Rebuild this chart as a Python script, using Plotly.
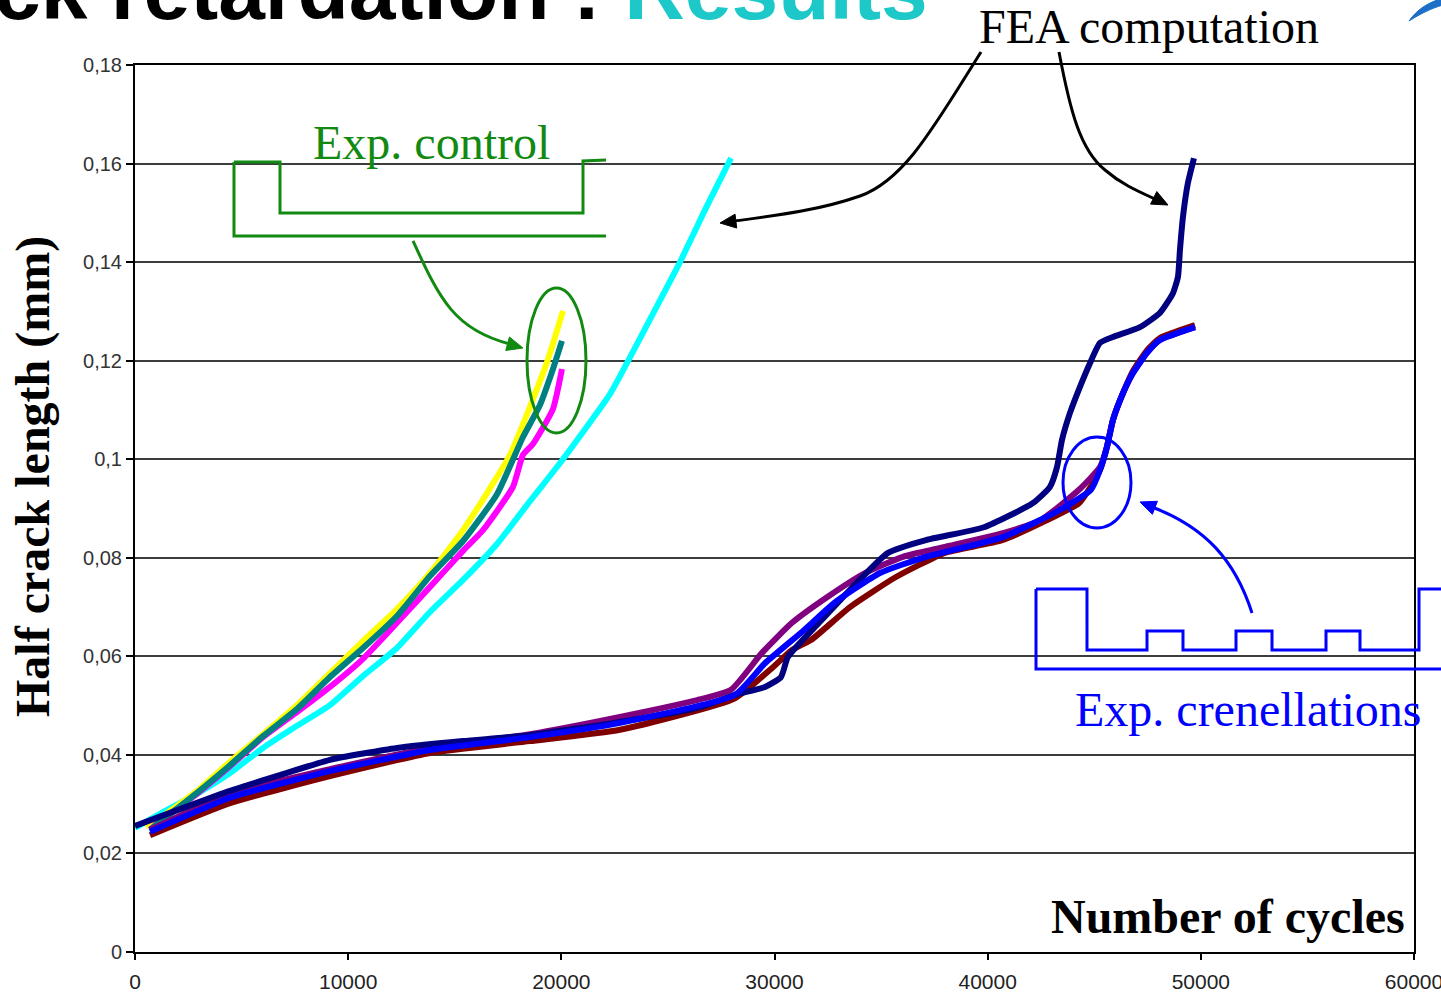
import math
import plotly.graph_objects as go

# ---------------- data ----------------
# FEA computation, control loading (cyan)
fea_ctrl_cycles = [0, 1313, 2909, 4456, 6005, 7599, 9148, 10696, 12290, 13838, 15387, 16982,
                   18529, 20077, 22282, 23127, 24393, 25566, 26739, 27958]
fea_ctrl_len = [0.0252, 0.0284, 0.0321, 0.0363, 0.0414, 0.0459, 0.0501, 0.0560, 0.0617, 0.0690,
                0.0755, 0.0828, 0.0915, 0.1000, 0.1132, 0.1199, 0.1303, 0.1400, 0.1506, 0.1611]

# Experimental control tests
exp_ctrl1_cycles = [500, 1313, 2909, 4456, 6005, 7599, 9148, 10696, 12290, 13838, 15387, 17591, 19327, 20077]
exp_ctrl1_len = [0.0255, 0.0276, 0.0327, 0.0386, 0.0442, 0.0501, 0.0566, 0.0631, 0.0696, 0.0769,
                 0.0856, 0.1009, 0.1197, 0.1301]

exp_ctrl2_cycles = [704, 1313, 2909, 4456, 6005, 7599, 9148, 10696, 12290, 13838, 15387, 16325,
                    17732, 18201, 18670, 19608, 20030]
exp_ctrl2_len = [0.0248, 0.0270, 0.0321, 0.0377, 0.0436, 0.0487, 0.0538, 0.0595, 0.0668, 0.0741,
                 0.0814, 0.0856, 0.0944, 0.1009, 0.1031, 0.1102, 0.1183]

exp_ctrl3_cycles = [704, 2909, 4456, 6005, 7599, 9148, 10696, 12290, 13838, 15387, 16982, 18201,
                    18998, 19608, 20030]
exp_ctrl3_len = [0.0248, 0.0323, 0.0379, 0.0438, 0.0493, 0.0558, 0.0617, 0.0682, 0.0763, 0.0834,
                 0.0929, 0.1045, 0.1110, 0.1183, 0.1240]

# FEA computation, crenellations (navy)
fea_cren_cycles = [0, 2111, 4456, 6802, 9148, 12290, 15387, 18529, 22751, 26504, 28146, 29553,
                   30304, 30632, 32087, 33541, 35323, 37106, 39827, 42125, 42923, 43252, 43486,
                   43861, 44330, 44799, 45268, 45878, 47144, 48082, 48692, 48927, 49021, 49162,
                   49396, 49678]
fea_cren_len = [0.0256, 0.0290, 0.0327, 0.0359, 0.0390, 0.0414, 0.0428, 0.0440, 0.0467, 0.0497,
                0.0522, 0.0538, 0.0558, 0.0599, 0.0668, 0.0735, 0.0810, 0.0836, 0.0862, 0.0911,
                0.0944, 0.0984, 0.1039, 0.1094, 0.1147, 0.1195, 0.1236, 0.1248, 0.1268, 0.1297,
                0.1337, 0.1370, 0.1425, 0.1492, 0.1561, 0.1611]

# Experimental crenellation tests
exp_cren1_cycles = [704, 4456, 9148, 13838, 18529, 22751, 28146, 29929, 30820, 31711, 33541, 35698,
                    37997, 40718, 44283, 44799, 45268, 45596, 45878, 46347, 46816, 47473, 48082, 49725]
exp_cren1_len = [0.0237, 0.0302, 0.0357, 0.0404, 0.0428, 0.0451, 0.0515, 0.0578, 0.0613, 0.0633,
                 0.0700, 0.0761, 0.0810, 0.0836, 0.0911, 0.0942, 0.0978, 0.1025, 0.1080, 0.1134,
                 0.1179, 0.1221, 0.1246, 0.1272]

exp_cren2_cycles = [704, 4456, 9148, 13838, 18529, 22751, 26364, 27958, 29412, 30820, 32462, 34244,
                    36027, 37997, 40718, 42501, 44283, 45268, 45596, 45878, 46347, 46816, 47473,
                    48082, 49725]
exp_cren2_len = [0.0248, 0.0321, 0.0371, 0.0414, 0.0442, 0.0477, 0.0511, 0.0532, 0.0607, 0.0668,
                 0.0720, 0.0769, 0.0802, 0.0822, 0.0850, 0.0877, 0.0938, 0.0984, 0.1025, 0.1080,
                 0.1134, 0.1175, 0.1216, 0.1242, 0.1268]

exp_cren3_cycles = [704, 4456, 9148, 13838, 18529, 22751, 28146, 29553, 31383, 32790, 34948, 37106,
                    40718, 43392, 44846, 45268, 45596, 45878, 46347, 46816, 47473, 48082, 49725]
exp_cren3_len = [0.0244, 0.0313, 0.0367, 0.0410, 0.0436, 0.0465, 0.0522, 0.0586, 0.0653, 0.0708,
                 0.0769, 0.0802, 0.0842, 0.0897, 0.0938, 0.0978, 0.1025, 0.1080, 0.1134, 0.1175,
                 0.1216, 0.1242, 0.1268]

x_tick_vals = [0, 10000, 20000, 30000, 40000, 50000, 60000]
x_tick_text = ["0", "10000", "20000", "30000", "40000", "50000", "60000"]
y_tick_vals = [0, 0.02, 0.04, 0.06, 0.08, 0.1, 0.12, 0.14, 0.16, 0.18]
y_tick_text = ["0", "0,02", "0,04", "0,06", "0,08", "0,1", "0,12", "0,14", "0,16", "0,18"]

# ---------------- figure ----------------
W, H = 1441, 994
PL, PR, PT, PB = 135, 1414, 65, 952   # plot area in page pixels
PW, PH = PR - PL, PB - PT


def px(x):
    return (x - PL) / PW


def py(y):
    return (PB - y) / PH


def path(points, close=False):
    s = "M " + " L ".join(f"{px(a):.5f},{py(b):.5f}" for a, b in points)
    return s + (" Z" if close else "")


def cpath(start, *curves):
    s = f"M {px(start[0]):.5f},{py(start[1]):.5f}"
    for c in curves:
        s += " C " + " ".join(f"{px(a):.5f},{py(b):.5f}" for a, b in c)
    return s


def head(tip, frm, L=16, Wd=7):
    dx, dy = tip[0] - frm[0], tip[1] - frm[1]
    n = math.hypot(dx, dy)
    ux, uy = dx / n, dy / n
    bx, by = tip[0] - ux * L, tip[1] - uy * L
    p1 = (bx - uy * Wd, by + ux * Wd)
    p2 = (bx + uy * Wd, by - ux * Wd)
    return path([tip, p1, p2], close=True)


fig = go.Figure()

series = [
    (fea_ctrl_cycles, fea_ctrl_len, "#00FFFF", "FEA control"),
    (exp_ctrl1_cycles, exp_ctrl1_len, "#FFFF00", "Exp. control 1"),
    (exp_ctrl2_cycles, exp_ctrl2_len, "#FF00FF", "Exp. control 2"),
    (exp_ctrl3_cycles, exp_ctrl3_len, "#008080", "Exp. control 3"),
    (exp_cren1_cycles, exp_cren1_len, "#800000", "Exp. crenellations 1"),
    (exp_cren2_cycles, exp_cren2_len, "#800080", "Exp. crenellations 2"),
    (fea_cren_cycles, fea_cren_len, "#000080", "FEA crenellations"),
    (exp_cren3_cycles, exp_cren3_len, "#0000FF", "Exp. crenellations 3"),
]
for xs, ys, col, name in series:
    fig.add_trace(go.Scatter(x=xs, y=ys, mode="lines", name=name,
                             line=dict(color=col, width=6, shape="spline", smoothing=0.5)))

GREEN = "#128A12"
BLUE = "#0000FF"
shapes = []
# Exp. control waveform
shapes.append(dict(type="path", path=path([(234, 162), (280, 162), (280, 213), (583, 213), (583, 161), (606, 160)]),
                   line=dict(color=GREEN, width=3)))
shapes.append(dict(type="path", path=path([(234, 162), (234, 236), (606, 236)]), line=dict(color=GREEN, width=3)))
# green arrow + ellipse
shapes.append(dict(type="path", path=cpath((413, 241), [(440, 300), (455, 330), (510, 344)]),
                   line=dict(color=GREEN, width=3)))
shapes.append(dict(type="path", path=head((523, 348), (505, 343)), line=dict(color=GREEN, width=1), fillcolor=GREEN))
shapes.append(dict(type="circle", x0=px(527), x1=px(586), y0=py(433), y1=py(288),
                   line=dict(color=GREEN, width=3)))
# FEA arrows
shapes.append(dict(type="path", path=cpath((981, 52), [(935, 125), (905, 180), (860, 196)], [(820, 210), (780, 215), (735, 221)]),
                   line=dict(color="black", width=3)))
shapes.append(dict(type="path", path=head((720, 223), (745, 220)), line=dict(color="black", width=1), fillcolor="black"))
shapes.append(dict(type="path", path=cpath((1059, 52), [(1070, 110), (1080, 150), (1105, 170)], [(1120, 183), (1135, 190), (1155, 199)]),
                   line=dict(color="black", width=3)))
shapes.append(dict(type="path", path=head((1168, 205), (1150, 196)), line=dict(color="black", width=1), fillcolor="black"))
# blue ellipse + arrow
shapes.append(dict(type="circle", x0=px(1063), x1=px(1131), y0=py(528), y1=py(437),
                   line=dict(color=BLUE, width=3)))
shapes.append(dict(type="path", path=cpath((1252, 613), [(1235, 560), (1205, 527), (1152, 507)]),
                   line=dict(color=BLUE, width=3)))
shapes.append(dict(type="path", path=head((1140, 502), (1158, 509)), line=dict(color=BLUE, width=1), fillcolor=BLUE))
# crenellation waveform
shapes.append(dict(type="path", path=path([(1036, 589), (1087, 589), (1087, 650), (1147, 650), (1147, 631), (1183, 631),
                                           (1183, 650), (1236, 650), (1236, 631), (1272, 631), (1272, 650), (1326, 650),
                                           (1326, 631), (1360, 631), (1360, 650), (1419, 650), (1419, 589), (1445, 589)]),
                   line=dict(color=BLUE, width=3)))
shapes.append(dict(type="path", path=path([(1036, 589), (1036, 669), (1445, 669)]), line=dict(color=BLUE, width=3)))
# logo swoosh
shapes.append(dict(type="path", path=cpath((1409, 21), [(1418, 8), (1430, 2), (1443, -2)]) + f" L {px(1443):.5f},{py(5):.5f}"
                   + " C " + " ".join(f"{px(a):.5f},{py(b):.5f}" for a, b in [(1432, 8), (1420, 14), (1409, 21)]) + " Z",
                   line=dict(color="#1C6FC8", width=1), fillcolor="#1C6FC8"))
for s in shapes:
    s["xref"] = "paper"
    s["yref"] = "paper"
    s["layer"] = "above"

SERIF = "Liberation Serif, Times New Roman, serif"
SANS = "Liberation Sans, Arial, sans-serif"
annotations = [
    dict(text="<b>ck retardation : </b><b><span style='color:#1CC8C8'>Results</span></b>", x=px(-8), y=py(-10),
         xanchor="left", yanchor="middle", font=dict(family=SANS, size=84, color="black"), showarrow=False),
    dict(text="FEA computation", x=px(1149), y=py(27), xanchor="center", yanchor="middle",
         font=dict(family=SERIF, size=48, color="black"), showarrow=False),
    dict(text="Exp. control", x=px(431), y=py(142), xanchor="center", yanchor="middle",
         font=dict(family=SERIF, size=48, color=GREEN), showarrow=False),
    dict(text="Exp. crenellations", x=px(1248), y=py(709), xanchor="center", yanchor="middle",
         font=dict(family=SERIF, size=48, color=BLUE), showarrow=False),
    dict(text="<b>Number of cycles</b>", x=px(1228), y=py(916), xanchor="center", yanchor="middle",
         font=dict(family=SERIF, size=48, color="black"), showarrow=False),
    dict(text="<b>Half crack length (mm)</b>", x=px(33), y=py(477), xanchor="center", yanchor="middle",
         textangle=-90, font=dict(family=SERIF, size=48, color="black"), showarrow=False),
]
for a in annotations:
    a["xref"] = "paper"
    a["yref"] = "paper"

fig.update_layout(
    width=W, height=H,
    margin=dict(l=PL, r=W - PR, t=PT, b=H - PB, pad=0, autoexpand=False),
    paper_bgcolor="white", plot_bgcolor="white",
    showlegend=False,
    shapes=shapes,
    annotations=annotations,
    xaxis=dict(range=[0, 60000], tickvals=x_tick_vals, ticktext=x_tick_text, showgrid=False, zeroline=False,
               showline=True, linecolor="black", linewidth=2, mirror=True, automargin=False,
               ticks="outside", ticklen=6, tickwidth=2, tickcolor="black", ticklabelstandoff=4,
               ticklabeloverflow="allow",
               tickfont=dict(family=SANS, size=21, color="#222222")),
    yaxis=dict(range=[0, 0.18], tickvals=y_tick_vals, ticktext=y_tick_text, showgrid=True,
               gridcolor="#3C3C3C", gridwidth=2, zeroline=False, automargin=False,
               showline=True, linecolor="black", linewidth=2, mirror=True,
               ticks="outside", ticklen=7, tickwidth=2, tickcolor="black",
               tickfont=dict(family=SANS, size=20, color="#333333")),
)

fig.write_html(
    "out.html",
    config={"displayModeBar": False},
    post_script=("document.documentElement.style.margin='0';document.body.style.margin='0';"
                 "document.documentElement.style.overflow='hidden';document.body.style.overflow='hidden';"
                 "var gd=document.getElementById('{plot_id}');"
                 "gd.style.position='fixed';gd.style.left='0px';gd.style.top='0px';"),
)
